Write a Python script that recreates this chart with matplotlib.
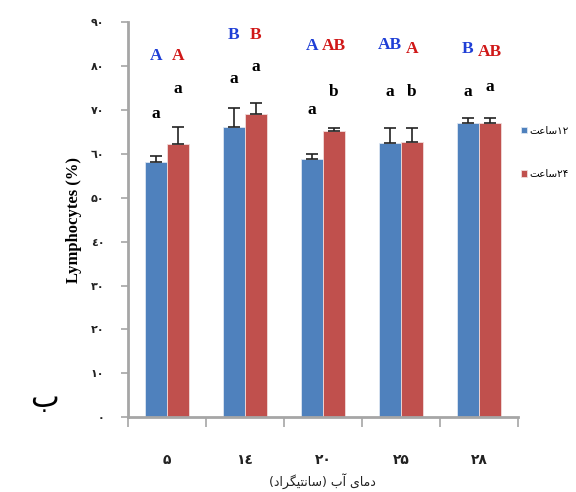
import matplotlib
matplotlib.use('Agg')
import matplotlib.pyplot as plt
import numpy as np

# data
temps = ['۵', '١٤', '۲۰', '۲۵', '۲۸']
lym_12h = [58.2, 66.0, 58.9, 62.5, 67.1]
err_12h = [1.4, 4.5, 1.1, 3.3, 1.0]
lym_24h = [62.3, 69.0, 65.1, 62.8, 67.1]
err_24h = [3.9, 2.5, 0.7, 3.0, 1.0]

# significance letters: uppercase (between times) and lowercase (between temps)
upper_12h = ['A', 'B', 'A', 'AB', 'B']
upper_24h = ['A', 'B', 'AB', 'A', 'AB']
upper_12h_y = [82.2, 87.0, 84.5, 84.7, 83.8]
upper_24h_y = [82.2, 87.0, 84.5, 83.8, 83.3]
lower_12h = ['a', 'a', 'a', 'a', 'a']
lower_24h = ['a', 'a', 'b', 'b', 'a']
lower_12h_y = [69.0, 77.0, 70.0, 74.0, 74.0]
lower_24h_y = [74.7, 79.7, 74.0, 74.0, 75.3]

yticks = [0, 10, 20, 30, 40, 50, 60, 70, 80, 90]
ytick_labels = ['۰', '۱۰', '۲۰', '۳۰', '٤۰', '۵۰', '٦۰', '۷۰', '۸۰', '۹۰']

# Persian text in visual (left-to-right) order using presentation forms
label_12h = '\uFE96\uFECB\uFE8E\uFEB3' + '۱۲'   # ۱۲ساعت
label_24h = '\uFE96\uFECB\uFE8E\uFEB3' + '۲۴'   # ۲۴ساعت
xlabel = ('(' + '\uFEA9\uFE8D\uFEAE\uFB95\uFEF4\uFE98\uFEE7\uFE8E\uFEB3' + ')'
          + ' ' + '\uFE8F\uFE81' + ' ' + '\uFEEF\uFE8E\uFEE3\uFEA9')  # دمای آب (سانتیگراد)

blue = '#4F81BD'
red = '#C0504D'
axis_gray = '#A6A6A6'

fig = plt.figure(figsize=(5.76, 4.92), dpi=100)
ax = fig.add_axes([0.222, 0.152, 0.677, 0.803])

x = np.arange(len(temps))
w = 0.282
ax.bar(x - w / 2, lym_12h, w, color=blue, edgecolor='#DCE6F2', linewidth=0.6,
       yerr=[np.zeros(5), err_12h], capsize=4, error_kw=dict(elinewidth=1.2, capthick=1.2, ecolor='#222222'),
       label=label_12h)
ax.bar(x + w / 2, lym_24h, w, color=red, edgecolor='#F2DCDB', linewidth=0.6,
       yerr=[np.zeros(5), err_24h], capsize=4, error_kw=dict(elinewidth=1.2, capthick=1.2, ecolor='#222222'),
       label=label_24h)

letter_font = dict(family='Liberation Serif', fontweight='bold', fontsize=12.5, ha='center', va='center')
for i in range(len(temps)):
    ax.text(x[i] - w / 2, upper_12h_y[i], upper_12h[i], color='#1F3FD6', **letter_font)
    ax.text(x[i] + w / 2, upper_24h_y[i], upper_24h[i], color='#D01818', **letter_font)
    ax.text(x[i] - w / 2, lower_12h_y[i], lower_12h[i], color='black', **letter_font)
    ax.text(x[i] + w / 2, lower_24h_y[i], lower_24h[i], color='black', **letter_font)

ax.set_xlim(-0.5, len(temps) - 0.5)
ax.set_ylim(0, 90)
ax.set_xticks(np.arange(-0.5, len(temps), 1.0))
ax.set_xticklabels([])
ax.set_xticks(x, minor=True)
ax.set_xticklabels(temps, minor=True, fontsize=10, fontweight='bold', color='#222222', family='DejaVu Sans')
ax.tick_params(axis='x', which='major', direction='out', length=7, width=1.2, color=axis_gray)
ax.tick_params(axis='x', which='minor', length=0, pad=26)
ax.set_yticks(yticks)
ax.set_yticklabels(ytick_labels, fontsize=8, fontweight='bold', color='#222222', family='DejaVu Sans')
ax.tick_params(axis='y', direction='out', length=5, width=1.2, color=axis_gray, pad=12)

for side in ['top', 'right']:
    ax.spines[side].set_visible(False)
for side in ['left', 'bottom']:
    ax.spines[side].set_color(axis_gray)
    ax.spines[side].set_linewidth(2)

ax.set_ylabel('Lymphocytes (%)', family='Liberation Serif', fontweight='bold', fontsize=12, labelpad=6)
ax.set_xlabel(xlabel, family='DejaVu Sans', fontsize=9, color='#222222', labelpad=4)

ax.legend(loc='center left', bbox_to_anchor=(1.0, 0.67), frameon=False, handlelength=0.6,
          handleheight=0.6, handletextpad=0.2, labelspacing=3.2, borderaxespad=0.1,
          borderpad=0.2, prop=dict(family='DejaVu Sans', size=7.5))

fig.text(0.078, 0.19, '\uFE8F', family='DejaVu Sans', fontsize=22, ha='center', va='center')

fig.savefig('out.png', dpi=100)
